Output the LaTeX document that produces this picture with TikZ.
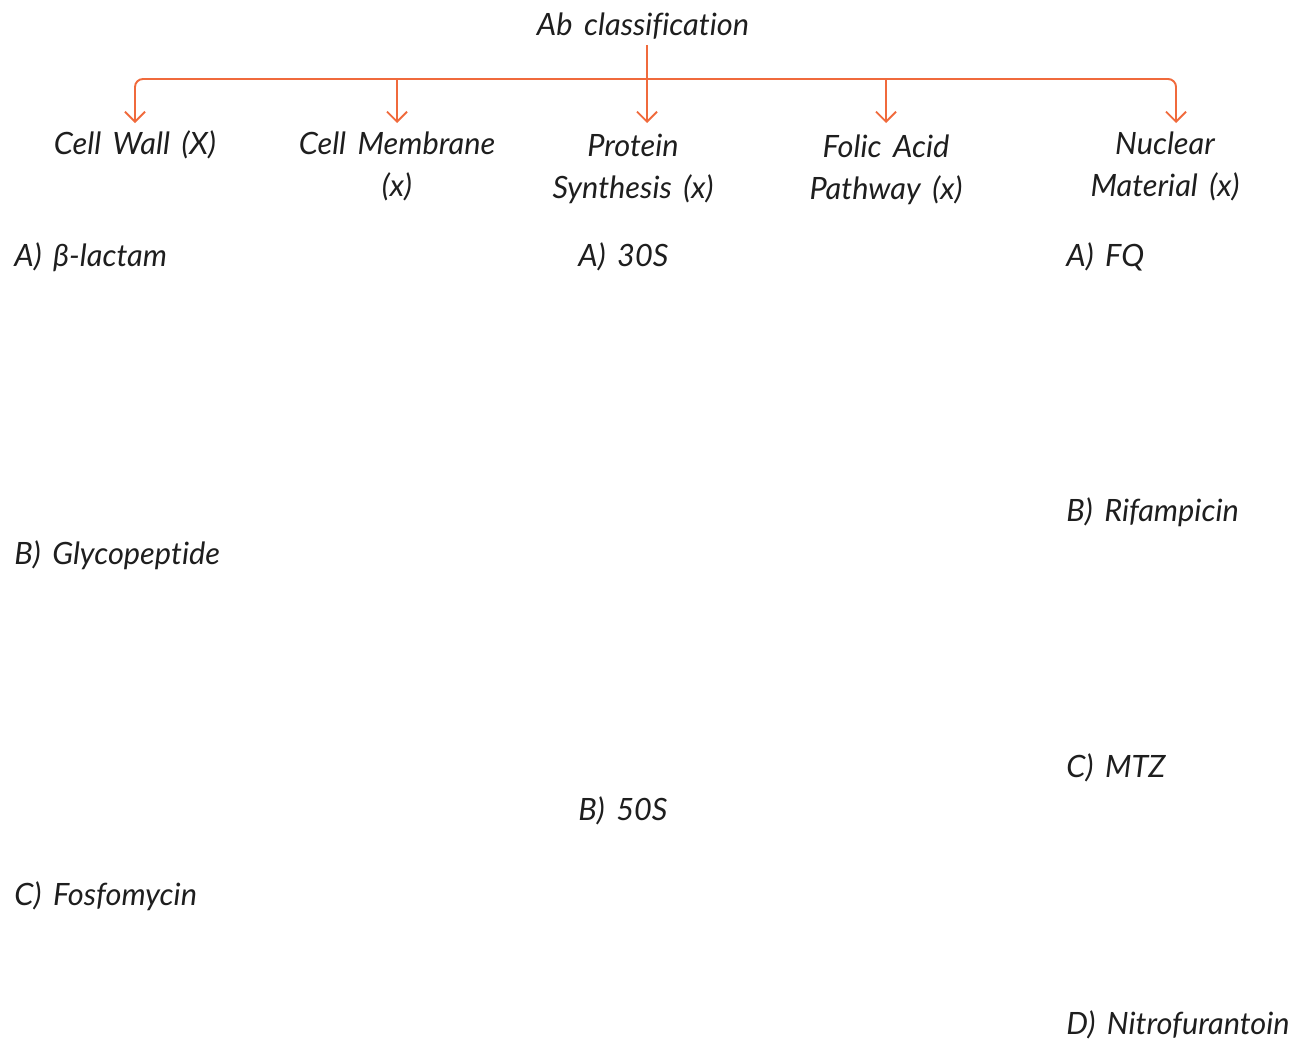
\documentclass[tikz,border=0pt]{standalone}
\usepackage{fontspec}
\setmainfont[Ligatures=NoCommon,WordSpace=1.6]{Lato}
\usepackage{tikz}
\usetikzlibrary{positioning,arrows.meta}
\definecolor{branch}{HTML}{F06A3C}
\definecolor{ink}{HTML}{1E1E1E}

\begin{document}
\begin{tikzpicture}[
  x=0.02cm,y=-0.02cm,
  font=\fontsize{17.5}{24}\selectfont\itshape,
  head/.style={align=center,inner sep=0pt,text=ink},
  drug/.style={anchor=west,inner sep=0pt,text=ink},
  arr/.style={-{Straight Barb[length=2mm,width=4mm]},line width=1.1pt,branch,rounded corners=4.5pt}
]
\useasboundingbox (0,0) rectangle (1307,1045);
\node[head] (root) at (643,26) {Ab classification};
\node[head] (wall) at (135,145) {Cell Wall (X)};
\node[head] (memb) at (397,166) {Cell Membrane\\(x)};
\node[head] (prot) at (633,169) {Protein\\Synthesis (x)};
\node[head] (folic) at (886,170) {Folic Acid\\Pathway (x)};
\node[head] (nucl) at (1165,166) {Nuclear\\Material (x)};
% branch points and arrow ends
\coordinate (trunk) at (647,79);
\coordinate (tips) at (0,123);
\coordinate (nucl-in) at (1176,123);
\draw[arr] ([yshift=-3pt]root.south -| trunk) -- (trunk |- tips);
\draw[arr] (trunk) -| (wall |- tips);
\draw[arr] (trunk) -| (nucl-in);
\draw[arr] (memb |- trunk) -- (memb |- tips);
\draw[arr] (folic |- trunk) -- (folic |- tips);
% cell wall
\node[drug] (wall-a) at (14,257) {A) β-lactam};
\node[drug] (wall-b) at (14,555) {B) Glycopeptide};
\node[drug] (wall-c) at (14,896) {C) Fosfomycin};
% protein synthesis
\node[drug] (prot-a) at (578,257) {A) 30S};
\node[drug] (prot-b) at (578,811) {B) 50S};
% nuclear material
\node[drug] (nucl-a) at (1066,257) {A) FQ};
\node[drug] (nucl-b) at (1066,512) {B) Rifampicin};
\node[drug] (nucl-c) at (1066,768) {C) MTZ};
\node[drug] (nucl-d) at (1066,1025) {D) Nitrofurantoin};
\end{tikzpicture}
\end{document}
